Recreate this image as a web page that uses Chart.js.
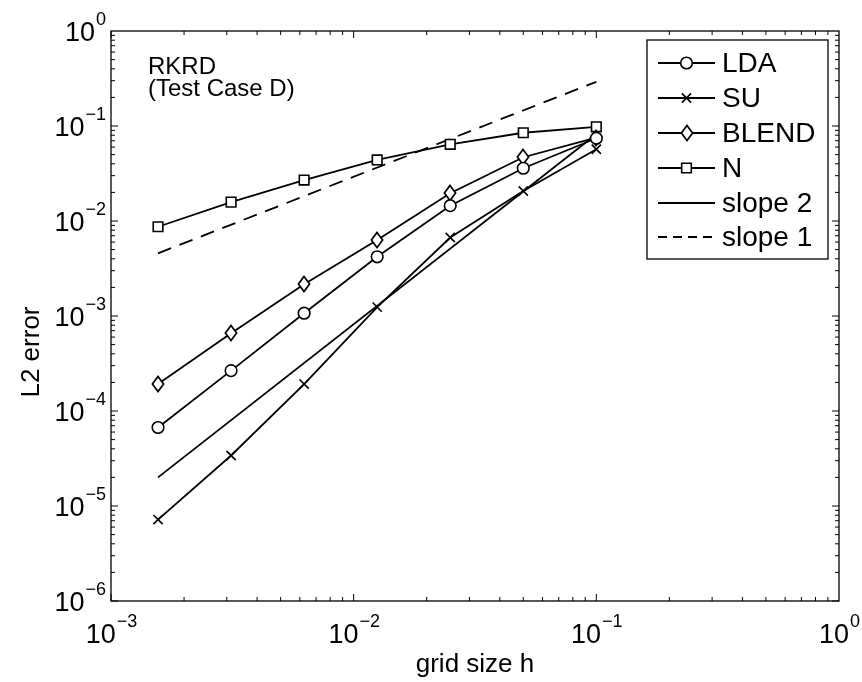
<!DOCTYPE html>
<html><head><meta charset="utf-8">
<script src="https://cdn.jsdelivr.net/npm/chart.js@4.4.1/dist/chart.umd.min.js"></script>
<style>html,body{margin:0;padding:0;background:#fff;} canvas{display:block;}</style>
</head><body>
<canvas id="c" width="862" height="682"></canvas>
<script>
// ---- data ----
const gridSizes   = [0.0015625, 0.003125, 0.00625, 0.0125, 0.025, 0.05, 0.1];
const ldaError    = [6.7e-5, 2.66e-4, 1.07e-3, 4.2e-3, 0.0145, 0.0359, 0.0743];
const suError     = [7.2e-6, 3.4e-5, 1.92e-4, 1.24e-3, 6.7e-3, 0.0207, 0.0569];
const blendError  = [1.92e-4, 6.6e-4, 2.16e-3, 6.3e-3, 0.0196, 0.0469, 0.0753];
const nError      = [8.7e-3, 0.0158, 0.027, 0.0439, 0.0641, 0.0849, 0.098];
const slopeH      = [0.0015625, 0.1];
const slope2Error = [2.0e-5, 0.082];
const slope1Error = [4.57e-3, 0.292];
const xTickExponents = [-3, -2, -1, 0];
const yTickExponents = [-6, -5, -4, -3, -2, -1, 0];
const seriesNames = ['LDA', 'SU', 'BLEND', 'N', 'slope 2', 'slope 1'];
const noteLines = ['RKRD', '(Test Case D)'];
const xTitle = 'grid size h';
const yTitle = 'L2 error';

const FONT = '"Liberation Sans", Arial, Helvetica, sans-serif';
const toXY = (xs, ys) => xs.map((x, i) => ({x: x, y: ys[i]}));

// diamond marker (taller than wide, like MATLAB)
function makeDiamond() {
  const cv = document.createElement('canvas');
  cv.width = 14; cv.height = 18;
  const c = cv.getContext('2d');
  c.beginPath();
  c.moveTo(7, 1.5); c.lineTo(12.6, 9); c.lineTo(7, 16.5); c.lineTo(1.4, 9); c.closePath();
  c.fillStyle = '#fff'; c.fill();
  c.lineWidth = 1.7; c.strokeStyle = '#000'; c.stroke();
  return cv;
}
const diamond = makeDiamond();

const LW = 1.8;
const base = {borderColor: '#000', backgroundColor: '#fff', borderWidth: LW, showLine: true,
  pointBorderColor: '#000', pointBackgroundColor: '#fff', pointBorderWidth: 1.6, pointHoverRadius: 0};

const datasets = [
  Object.assign({}, base, {label: seriesNames[0], data: toXY(gridSizes, ldaError), pointStyle: 'circle', pointRadius: 5.8}),
  Object.assign({}, base, {label: seriesNames[1], data: toXY(gridSizes, suError), pointStyle: 'crossRot', pointRadius: 6.5}),
  Object.assign({}, base, {label: seriesNames[2], data: toXY(gridSizes, blendError), pointStyle: diamond, pointRadius: 7}),
  Object.assign({}, base, {label: seriesNames[3], data: toXY(gridSizes, nError), pointStyle: 'rect', pointRadius: 6.8}),
  Object.assign({}, base, {label: seriesNames[4], data: toXY(slopeH, slope2Error), pointRadius: 0}),
  Object.assign({}, base, {label: seriesNames[5], data: toXY(slopeH, slope1Error), pointRadius: 0, borderDash: [14, 9]})
];

function drawMarker(ctx, kind, x, y) {
  ctx.save();
  ctx.lineWidth = 1.6; ctx.strokeStyle = '#000'; ctx.fillStyle = '#fff';
  if (kind === 'circle') {
    ctx.beginPath(); ctx.arc(x, y, 5.8, 0, Math.PI * 2); ctx.fill(); ctx.stroke();
  } else if (kind === 'crossRot') {
    const d = 6.5 * Math.SQRT1_2;
    ctx.beginPath(); ctx.moveTo(x - d, y - d); ctx.lineTo(x + d, y + d);
    ctx.moveTo(x - d, y + d); ctx.lineTo(x + d, y - d); ctx.stroke();
  } else if (kind === 'rect') {
    const s = 6.8 * Math.SQRT1_2;
    ctx.beginPath(); ctx.rect(x - s, y - s, 2 * s, 2 * s); ctx.fill(); ctx.stroke();
  } else if (kind === 'diamond') {
    ctx.drawImage(diamond, Math.round(x - diamond.width / 2), Math.round(y - diamond.height / 2));
  }
  ctx.restore();
}

function powLabel(ctx, e, x, y, mode) {
  const b = '10';
  const ex = e < 0 ? '\u2212' + Math.abs(e) : String(e);
  ctx.font = '27px ' + FONT;
  const wb = ctx.measureText(b).width;
  ctx.font = '18px ' + FONT;
  const we = ctx.measureText(ex).width;
  ctx.textAlign = 'left'; ctx.textBaseline = 'alphabetic'; ctx.fillStyle = '#000';
  let x0;
  if (mode === 'x') x0 = x - (wb + we) / 2; else x0 = x - (wb + we);
  ctx.font = '27px ' + FONT;
  ctx.fillText(b, x0, y);
  ctx.font = '18px ' + FONT;
  ctx.fillText(ex, x0 + wb + 1, y - 16);
}

const decor = {
  id: 'decor',
  beforeDatasetsDraw(chart) {
    // keep the image-based diamond markers crisp
    chart.ctx.imageSmoothingEnabled = false;
  },
  afterDraw(chart) {
    const ctx = chart.ctx;
    const xs = chart.scales.x, ys = chart.scales.y;
    const L = xs.left, R = xs.right, T = ys.top, B = ys.bottom;
    ctx.save();
    ctx.strokeStyle = '#000'; ctx.lineWidth = 1.3;
    ctx.strokeRect(L, T, R - L, B - T);
    // ticks
    ctx.lineWidth = 1;
    ctx.beginPath();
    for (let e = xTickExponents[0]; e < xTickExponents[xTickExponents.length - 1]; e++) {
      for (let k = 1; k <= 9; k++) {
        const px = xs.getPixelForValue(k * Math.pow(10, e));
        const len = k === 1 ? 7 : 4;
        ctx.moveTo(px, B); ctx.lineTo(px, B - len);
        ctx.moveTo(px, T); ctx.lineTo(px, T + len);
      }
    }
    for (let e = yTickExponents[0]; e < yTickExponents[yTickExponents.length - 1]; e++) {
      for (let k = 1; k <= 9; k++) {
        const py = ys.getPixelForValue(k * Math.pow(10, e));
        const len = k === 1 ? 7 : 4;
        ctx.moveTo(L, py); ctx.lineTo(L + len, py);
        ctx.moveTo(R, py); ctx.lineTo(R - len, py);
      }
    }
    ctx.stroke();
    // tick labels
    xTickExponents.forEach(e => powLabel(ctx, e, xs.getPixelForValue(Math.pow(10, e)), B + 42, 'x'));
    yTickExponents.forEach(e => powLabel(ctx, e, L - 6, ys.getPixelForValue(Math.pow(10, e)) + 10, 'y'));
    // axis titles
    ctx.fillStyle = '#000';
    ctx.font = '26px ' + FONT;
    ctx.textAlign = 'center'; ctx.textBaseline = 'alphabetic';
    ctx.fillText(xTitle, (L + R) / 2, 672);
    ctx.save();
    ctx.translate(39, 352); ctx.rotate(-Math.PI / 2);
    ctx.fillText(yTitle, 0, 0);
    ctx.restore();
    // note
    ctx.font = '24px ' + FONT; ctx.textAlign = 'left';
    ctx.fillText(noteLines[0], 148, 74);
    ctx.fillText(noteLines[1], 148, 96);
    // legend
    const lx = 647, ly = 40, lw = 181, lh = 219;
    ctx.fillStyle = '#fff'; ctx.fillRect(lx, ly, lw, lh);
    ctx.lineWidth = 1.3; ctx.strokeStyle = '#000'; ctx.strokeRect(lx, ly, lw, lh);
    const kinds = ['circle', 'crossRot', 'diamond', 'rect', null, null];
    const rowY = [63, 98, 133, 168, 203, 237];
    seriesNames.forEach((name, i) => {
      const y = rowY[i];
      ctx.save();
      ctx.strokeStyle = '#000'; ctx.lineWidth = LW;
      if (i === 5) ctx.setLineDash([9, 6]);
      ctx.beginPath(); ctx.moveTo(658, y); ctx.lineTo(715, y); ctx.stroke();
      ctx.restore();
      if (kinds[i]) drawMarker(ctx, kinds[i], 686.5, y);
      ctx.fillStyle = '#000'; ctx.font = '28px ' + FONT;
      ctx.textAlign = 'left'; ctx.textBaseline = 'middle';
      ctx.fillText(name, 722, y + 1);
    });
    ctx.restore();
  }
};

new Chart(document.getElementById('c'), {
  type: 'scatter',
  data: {datasets: datasets},
  options: {
    responsive: false, animation: false, devicePixelRatio: 1,
    layout: {padding: {left: 111, top: 31, right: 23, bottom: 81}},
    plugins: {legend: {display: false}, tooltip: {enabled: false}},
    events: [],
    scales: {
      x: {type: 'logarithmic', min: 1e-3, max: 1, display: false},
      y: {type: 'logarithmic', min: 1e-6, max: 1, display: false}
    }
  },
  plugins: [decor]
});
</script>
</body></html>
